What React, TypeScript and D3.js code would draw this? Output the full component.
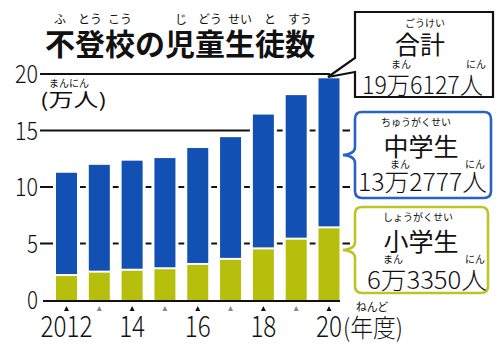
import React from "react";
import * as d3 from "d3";

const years = [2012, 2013, 2014, 2015, 2016, 2017, 2018, 2019, 2020];
const elementary = [2.12, 2.42, 2.59, 2.72, 3.10, 3.55, 4.48, 5.34, 6.34];
const juniorHigh = [9.14, 9.54, 9.74, 9.84, 10.35, 10.86, 11.93, 12.79, 13.28];
const yTicks = [0, 5, 10, 15, 20];
const xLabels = [
  { year: 2012, text: "2012" },
  { year: 2014, text: "14" },
  { year: 2016, text: "16" },
  { year: 2018, text: "18" },
  { year: 2020, text: "20" },
];

const BLUE = "#1250b3";
const GREEN = "#b6c00c";
const JP = "'Noto Sans CJK JP', 'Noto Sans', sans-serif";

export default function App() {
  const y = d3.scaleLinear().domain([0, 20]).range([300, 74]);
  const x = d3.scaleLinear().domain([2012, 2020]).range([66.5, 329]);
  const bw = 21;

  const stack = d3
    .stack<any>()
    .keys(["e", "j"])(years.map((yr, i) => ({ yr, e: elementary[i], j: juniorHigh[i] })));

  const ruby = (t: string, cx: number, by: number, size = 10) => (
    <text x={cx} y={by} fontSize={size} textAnchor="middle" fontFamily={JP} fill="#111">
      {t}
    </text>
  );

  const bracePath = (x0: number, y0: number, x1: number, y1: number, r: number, by: number) => {
    return [
      `M${x0 + r},${y0}`,
      `L${x1 - r},${y0}`,
      `Q${x1},${y0} ${x1},${y0 + r}`,
      `L${x1},${y1 - r}`,
      `Q${x1},${y1} ${x1 - r},${y1}`,
      `L${x0 + r},${y1}`,
      `Q${x0},${y1} ${x0},${y1 - r}`,
      `L${x0},${by + 8}`,
      `Q${x0},${by + 1} ${x0 - 12},${by}`,
      `Q${x0},${by - 1} ${x0},${by - 8}`,
      `L${x0},${y0 + r}`,
      `Q${x0},${y0} ${x0 + r},${y0}`,
      "Z",
    ].join(" ");
  };

  return (
    <svg width={500} height={349} style={{ position: "absolute", left: 0, top: 0, background: "#fff" }}>
      <rect width={500} height={349} fill="#fff" />
      {/* title */}
      <text x={180} y={55} fontSize={30} fontWeight={700} textAnchor="middle" fontFamily={JP} fill="#111" textLength={270} lengthAdjust="spacingAndGlyphs">
        不登校の児童生徒数
      </text>
      {ruby("ふ", 60, 24, 12)}
      {ruby("とう", 90, 24, 12)}
      {ruby("こう", 120, 24, 12)}
      {ruby("じ", 181, 24, 12)}
      {ruby("どう", 210, 24, 12)}
      {ruby("せい", 240, 24, 12)}
      {ruby("と", 270, 24, 12)}
      {ruby("すう", 300, 24, 12)}

      {/* gridlines */}
      {yTicks.filter((t) => t > 0).map((t) => (
        <line key={t} x1={40} x2={t === 20 ? 330 : 350} y1={y(t)} y2={y(t)} stroke="#111" strokeWidth={1.8} />
      ))}
      {/* y labels */}
      {yTicks.map((t) => (
        <text key={t} x={38} y={y(t) + 9} fontSize={25} fontWeight={300} textAnchor="end" fontFamily={JP} fill="#111"
          textLength={t >= 10 ? 23 : 11} lengthAdjust="spacingAndGlyphs">
          {t}
        </text>
      ))}
      {/* unit */}
      <rect x={40} y={78} width={70} height={32} fill="#fff" />
      {ruby("まんにん", 69, 87, 10)}
      <text x={40} y={107} fontSize={19} fontFamily={JP} fill="#111" textLength={67} lengthAdjust="spacingAndGlyphs">
        (万人)
      </text>

      {/* bars */}
      {years.map((yr, i) => (
        <rect key={"h" + yr} x={x(yr) - bw / 2 - 3} y={y(stack[1][i][1]) - 3} width={bw + 6} height={300 - y(stack[1][i][1]) + 3} fill="#fff" />
      ))}
      {years.map((yr, i) => (
        <g key={yr}>
          <rect x={x(yr) - bw / 2} y={y(stack[0][i][1])} width={bw} height={y(stack[0][i][0]) - y(stack[0][i][1])} fill={GREEN} />
          <rect x={x(yr) - bw / 2} y={y(stack[1][i][1])} width={bw} height={y(stack[1][i][0]) - y(stack[1][i][1]) - 2} fill={BLUE} />
        </g>
      ))}
      {/* x axis */}
      <line x1={43} x2={340} y1={301} y2={301} stroke="#111" strokeWidth={2.2} />
      {years.map((yr, i) => (
        <path key={"t" + yr} d={`M${x(yr) - 2.5},311 L${x(yr) + 2.5},311 L${x(yr)},306 Z`} fill={i % 2 === 0 ? "#111" : "#888"} />
      ))}
      {xLabels.map((l) => (
        <text key={l.text} x={x(l.year)} y={337} fontSize={29} fontWeight={300} textAnchor="middle" fontFamily={JP} fill="#111"
          textLength={l.text.length * 13} lengthAdjust="spacingAndGlyphs">
          {l.text}
        </text>
      ))}
      <text x={343} y={337} fontSize={25} fontWeight={300} fontFamily={JP} fill="#111" textLength={60} lengthAdjust="spacingAndGlyphs">
        (年度)
      </text>
      {ruby("ねんど", 372, 311, 11)}

      {/* total callout */}
      <path d="M355,12 L493,12 L493,97 L355,97 L355,72 L328,77 L355,58 Z" fill="#fff" stroke="#111" strokeWidth={2.2} strokeLinejoin="miter" />
      {ruby("ごうけい", 425, 27)}
      <text x={420} y={54} fontSize={25} textAnchor="middle" fontFamily={JP} fill="#111">合計</text>
      {ruby("まん", 401, 68)}
      {ruby("にん", 476, 68)}
      <text x={362} y={94} fontSize={24} fontWeight={300} fontFamily={JP} fill="#111" textLength={121} lengthAdjust="spacingAndGlyphs">19万6127人</text>

      {/* junior high callout */}
      <path d={bracePath(355, 112, 491, 198, 7, 155)} fill="#fff" stroke="#2a62c4" strokeWidth={2.6} />
      {ruby("ちゅうがくせい", 416, 126)}
      <text x={421} y={156} fontSize={25} textAnchor="middle" fontFamily={JP} fill="#111">中学生</text>
      {ruby("まん", 400, 168)}
      {ruby("にん", 475, 168)}
      <text x={358} y={191} fontSize={24} fontWeight={300} fontFamily={JP} fill="#111" textLength={129} lengthAdjust="spacingAndGlyphs">13万2777人</text>

      {/* elementary callout */}
      <path d={bracePath(355, 207, 488, 293, 7, 250)} fill="#fff" stroke="#bcc526" strokeWidth={2.6} />
      {ruby("しょうがくせい", 418, 221)}
      <text x={421} y={251} fontSize={25} textAnchor="middle" fontFamily={JP} fill="#111">小学生</text>
      {ruby("まん", 393, 263)}
      {ruby("にん", 475, 263)}
      <text x={367} y={289} fontSize={24} fontWeight={300} fontFamily={JP} fill="#111" textLength={120} lengthAdjust="spacingAndGlyphs">6万3350人</text>
    </svg>
  );
}
